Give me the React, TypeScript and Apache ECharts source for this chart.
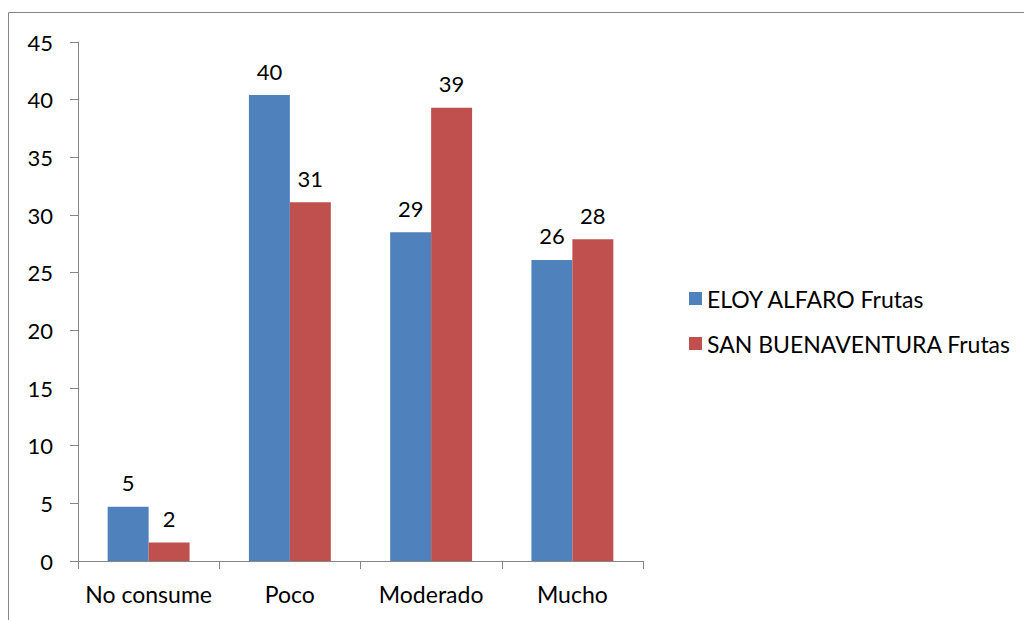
import React, { useEffect, useRef } from "react";
import * as echarts from "echarts";

const categories = ["No consume", "Poco", "Moderado", "Mucho"];
const seriesNames = ["ELOY ALFARO Frutas", "SAN BUENAVENTURA Frutas"];
const eloyValues = [4.7, 40.4, 28.5, 26.1];
const sanValues = [1.6, 31.1, 39.3, 27.9];
const colors = ["#4F81BD", "#C0504D"];

const FONT = "Lato";
const FS = 22;

export default function App() {
  const ref = useRef<HTMLDivElement>(null);
  useEffect(() => {
    if (!ref.current) return;
    const chart = echarts.init(ref.current, undefined, { renderer: "svg" });
    const label = {
      show: true,
      position: "top",
      distance: 13,
      color: "#000",
      fontFamily: FONT,
      fontSize: FS,
      formatter: (p: any) => String(Math.round(p.value)),
    };
    chart.setOption({
      animation: false,
      backgroundColor: "#fff",
      textStyle: { fontFamily: FONT },
      graphic: [
        {
          type: "rect",
          shape: { x: 8.5, y: 12.5, width: 1100, height: 700 },
          style: { fill: "none", stroke: "#868686", lineWidth: 1 },
          silent: true,
        },
      ],
      grid: { left: 78, right: 381, top: 42, bottom: 59 },
      legend: {
        orient: "vertical",
        left: 684,
        top: 282,
        itemWidth: 13,
        itemHeight: 13,
        itemGap: 22,
        icon: "rect",
        textStyle: { color: "#000", fontFamily: FONT, fontSize: 23, lineHeight: 23 },
        data: seriesNames,
      },
      xAxis: {
        type: "category",
        data: categories,
        axisLine: { lineStyle: { color: "#868686" } },
        axisTick: { show: true, length: 8, lineStyle: { color: "#868686" } },
        axisLabel: { color: "#000", fontFamily: FONT, fontSize: 23, margin: 21, interval: 0 },
      },
      yAxis: {
        type: "value",
        min: 0,
        max: 45,
        interval: 5,
        splitLine: { show: false },
        axisLine: { show: true, lineStyle: { color: "#868686" } },
        axisTick: { show: true, length: 8, lineStyle: { color: "#868686" } },
        axisLabel: { color: "#000", fontFamily: FONT, fontSize: FS, margin: 25 },
      },
      series: [
        {
          name: seriesNames[0],
          type: "bar",
          data: eloyValues,
          itemStyle: { color: colors[0] },
          barGap: "0%",
          barCategoryGap: "42%",
          label,
        },
        {
          name: seriesNames[1],
          type: "bar",
          data: sanValues,
          itemStyle: { color: colors[1] },
          barGap: "0%",
          barCategoryGap: "42%",
          label,
        },
      ],
    });
    return () => chart.dispose();
  }, []);
  return (
    <div
      ref={ref}
      style={{ position: "fixed", left: 0, top: 0, width: 1024, height: 620 }}
    />
  );
}
